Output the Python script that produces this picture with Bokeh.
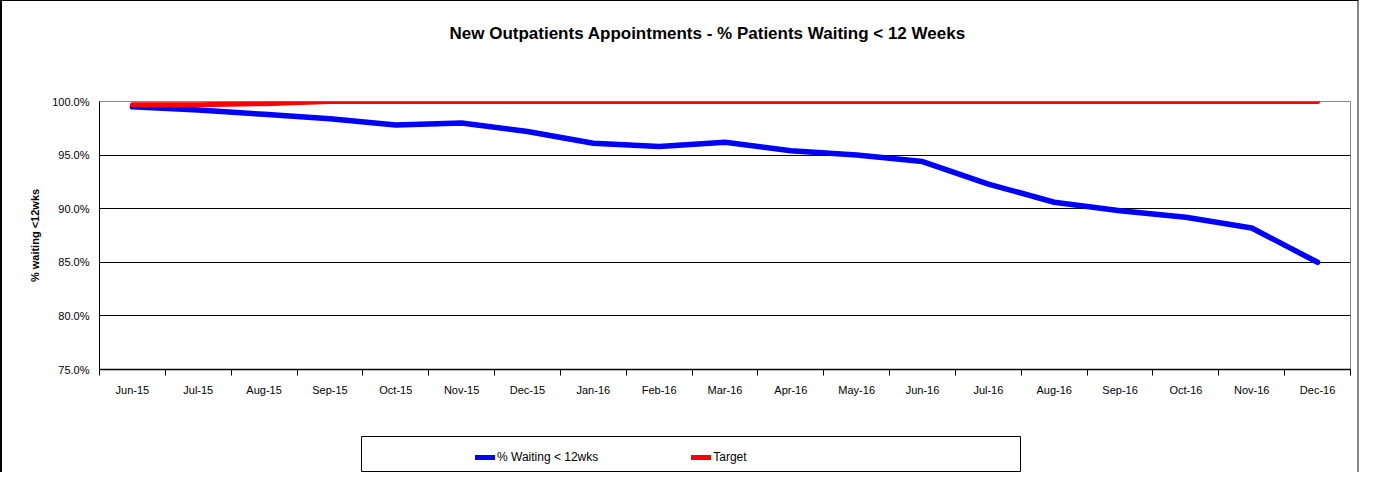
from bokeh.plotting import figure
from bokeh.models import (FixedTicker, PrintfTickFormatter, Legend, LegendItem, Range1d,
                          ColumnDataSource, Title)
from bokeh.embed import file_html
from bokeh.resources import INLINE

months = ["Jun-15", "Jul-15", "Aug-15", "Sep-15", "Oct-15", "Nov-15", "Dec-15",
          "Jan-16", "Feb-16", "Mar-16", "Apr-16", "May-16", "Jun-16", "Jul-16",
          "Aug-16", "Sep-16", "Oct-16", "Nov-16", "Dec-16"]
waiting = [99.5, 99.2, 98.8, 98.4, 97.8, 98.0, 97.2, 96.1, 95.8, 96.2, 95.4,
           95.0, 94.4, 92.3, 90.6, 89.8, 89.2, 88.2, 85.0]
target = [99.7, 99.7, 99.8, 100.0, 100.0, 100.0, 100.0, 100.0, 100.0, 100.0, 100.0,
          100.0, 100.0, 100.0, 100.0, 100.0, 100.0, 100.0, 100.0]
y_ticks = [75, 80, 85, 90, 95, 100]

FONT = "Liberation Sans"
BLUE = "#0000FF"
RED = "#FF0000"

xs = [i + 0.5 for i in range(len(months))]
src = ColumnDataSource(dict(x=xs, waiting=waiting, target=target, month=months))

p = figure(width=1359, height=432, output_backend="svg", toolbar_location=None,
           x_range=Range1d(0, len(months)), y_range=Range1d(75, 100),
           min_border_left=97, min_border_right=11, min_border_top=100, min_border_bottom=64,
           title="New Outpatients Appointments - % Patients Waiting < 12 Weeks",
           styles={"border-top": "1px solid black", "border-left": "2px solid black",
                   "border-right": "2px solid #888888"})
p.title.align = "left"
p.title.offset = 350
p.title.text_font = FONT
p.title.text_font_size = "17px"
p.title.text_font_style = "bold"
p.title.text_color = "black"
p.title.standoff = 10
# empty spacer between the title and the plot area
p.add_layout(Title(text=" ", text_font_size="10px", standoff=41), "above")

p.outline_line_color = "#888888"
p.outline_line_width = 1
p.background_fill_color = "white"
p.border_fill_color = "white"

l1 = p.line("x", "waiting", source=src, line_color=BLUE, line_width=5.5, line_cap="round", line_join="round")
l2 = p.line("x", "target", source=src, line_color=RED, line_width=5, line_cap="round", line_join="round")

# y axis
p.yaxis.ticker = FixedTicker(ticks=y_ticks)
p.yaxis.formatter = PrintfTickFormatter(format="%.1f%%")
p.yaxis.major_tick_out = 0
p.yaxis.major_tick_in = 0
p.yaxis.minor_tick_out = 0
p.yaxis.minor_tick_in = 0
p.yaxis.axis_line_color = "black"
p.yaxis.major_label_text_font = FONT
p.yaxis.major_label_text_font_size = "11px"
p.yaxis.major_label_text_color = "black"
p.yaxis.major_label_standoff = 10
p.yaxis.axis_label = "% waiting <12wks"
p.yaxis.axis_label_text_font = FONT
p.yaxis.axis_label_text_font_size = "11px"
p.yaxis.axis_label_text_font_style = "bold"
p.yaxis.axis_label_text_color = "black"
p.yaxis.axis_label_standoff = 8

# x axis
p.xaxis.ticker = FixedTicker(ticks=xs, minor_ticks=list(range(len(months) + 1)))
p.xaxis.major_label_overrides = {x: m for x, m in zip(xs, months)}
p.xaxis.major_tick_out = 0
p.xaxis.major_tick_in = 0
p.xaxis.minor_tick_out = 6
p.xaxis.minor_tick_in = 0
p.xaxis.minor_tick_line_color = "black"
p.xaxis.axis_line_color = "black"
p.xaxis.axis_line_width = 1.5
p.xaxis.major_label_text_font = FONT
p.xaxis.major_label_text_font_size = "11px"
p.xaxis.major_label_text_color = "black"
p.xaxis.major_label_standoff = 8

p.xgrid.grid_line_color = None
p.ygrid.ticker = FixedTicker(ticks=[80, 85, 90, 95])
p.ygrid.grid_line_color = "black"
p.ygrid.grid_line_width = 1

# legend strip (its frame is the legend box)
lf = figure(width=1359, height=40, output_backend="svg", toolbar_location=None,
            x_range=Range1d(0, 1), y_range=Range1d(0, 1),
            x_axis_location=None, y_axis_location=None,
            min_border_left=359, min_border_right=341, min_border_top=4, min_border_bottom=1,
            styles={"border-left": "2px solid black", "border-right": "2px solid #888888"})
lf.grid.visible = False
lf.outline_line_color = "black"
lf.outline_line_width = 1
lf.border_fill_color = "white"
k1 = lf.line("x", "waiting", source=src, line_color=BLUE, line_width=5, line_cap="round")
k2 = lf.line("x", "target", source=src, line_color=RED, line_width=5, line_cap="round")

legend = Legend(items=[LegendItem(label="% Waiting < 12wks", renderers=[k1]),
                       LegendItem(label="Target", renderers=[k2])],
                orientation="horizontal", location=(114, 6),
                border_line_color=None, background_fill_alpha=0,
                label_text_font=FONT, label_text_font_size="12px", label_text_color="black",
                glyph_width=20, glyph_height=16, padding=5, spacing=93,
                label_width=100, label_standoff=2, margin=0)
lf.add_layout(legend, "center")

open("out.html", "w").write(file_html([p, lf], INLINE))
